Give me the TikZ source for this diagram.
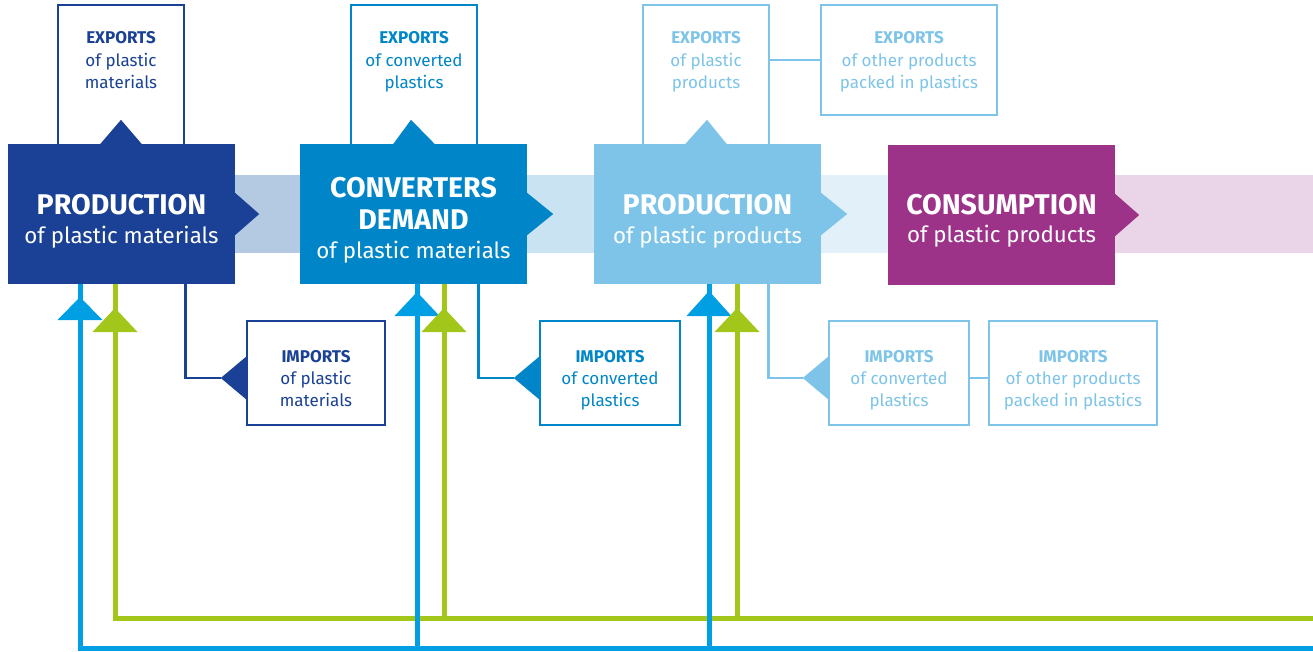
\documentclass[tikz,border=0pt]{standalone}
\usepackage{fontspec}
\setmainfont{Fira Sans}
\usetikzlibrary{calc}
\definecolor{cdark}{RGB}{26,65,149}
\definecolor{cconv}{RGB}{0,134,200}
\definecolor{clight}{RGB}{125,196,232}
\definecolor{cpurp}{RGB}{156,51,136}
\definecolor{bandA}{RGB}{180,202,227}
\definecolor{bandB}{RGB}{201,227,243}
\definecolor{bandC}{RGB}{226,240,250}
\definecolor{bandD}{RGB}{234,213,232}
\definecolor{cblue}{RGB}{0,159,227}
\definecolor{cgreen}{RGB}{163,198,26}
\begin{document}
\begin{tikzpicture}[x=1pt,y=-1pt,
  mainbox/.style={rectangle, minimum width=227pt, minimum height=140pt, inner sep=0pt, draw=none},
  outbox/.style={rectangle, draw, line width=2.5pt, fill=white, inner sep=0pt},
  hd/.style={anchor=base, inner sep=0pt, text=white, font=\fontsize{28.5}{30}\selectfont\bfseries},
  sub/.style={anchor=base, inner sep=0pt, text=white, font=\fontsize{22.3}{30}\selectfont},
  sh/.style={anchor=base, inner sep=0pt, font=\fontsize{17}{20}\selectfont\bfseries},
  st/.style={anchor=base, inner sep=0pt, font=\fontsize{17}{20}\selectfont},
  conn/.style={line width=2.5pt},
  flow/.style={line width=5pt},
]
\useasboundingbox (0,0) rectangle (1313,651);

% bands
\fill[bandA] (235,175) rectangle (300,253);
\fill[bandB] (527,175) rectangle (594,253);
\fill[bandC] (821,175) rectangle (888,253);
\fill[bandD] (1115,175) rectangle (1313,253);

% export boxes
\node[outbox, draw=cdark, minimum width=126pt, minimum height=145pt] (exp1) at (121,77.5) {};
\node[outbox, draw=cconv, minimum width=126pt, minimum height=145pt] (exp2) at (414,77.5) {};
\node[outbox, draw=clight, minimum width=126pt, minimum height=145pt] (exp3) at (706,77.5) {};
\node[outbox, draw=clight, minimum width=176pt, minimum height=110pt] (exp4) at (909,60) {};

% import boxes
\node[outbox, draw=cdark, minimum width=138pt, minimum height=104pt] (imp1) at (316,373) {};
\node[outbox, draw=cconv, minimum width=140pt, minimum height=104pt] (imp2) at (610,373) {};
\node[outbox, draw=clight, minimum width=140pt, minimum height=104pt] (imp3) at (899,373) {};
\node[outbox, draw=clight, minimum width=168pt, minimum height=104pt] (imp4) at (1073,373) {};

% import arrow tips
\coordinate (t1) at ($(imp1.west)+(-25,5)$);
\coordinate (t2) at ($(imp2.west)+(-25,5)$);
\coordinate (t3) at ($(imp3.west)+(-25,5)$);
\fill[cdark] (t1) -- ++(25,-21) -- ++(0,42) -- cycle;
\fill[cconv] (t2) -- ++(25,-21) -- ++(0,42) -- cycle;
\fill[clight] (t3) -- ++(25,-21) -- ++(0,42) -- cycle;

% connectors export/import
\draw[conn, cdark] (exp1.south east) |- (t1);
\draw[conn, cconv] (exp2.south east) |- (t2);
\draw[conn, clight] ($(exp3.south east)+(-2,0)$) |- (t3);
\draw[conn, clight] (exp3.east |- exp4.west) -- (exp4.west);
\draw[conn, clight] (imp3.east |- t3) -- (imp4.west |- t3);

% texts in export boxes
\node[sh, text=cdark] (e1a) at (121,43) {EXPORTS};
\node[st, text=cdark] (e1b) at (121,66) {of plastic};
\node[st, text=cdark] (e1c) at (121,88) {materials};
\node[sh, text=cconv] (e2a) at (414,43) {EXPORTS};
\node[st, text=cconv] (e2b) at (414,66) {of converted};
\node[st, text=cconv] (e2c) at (414,88) {plastics};
\node[sh, text=clight] (e3a) at (706,43) {EXPORTS};
\node[st, text=clight] (e3b) at (706,66) {of plastic};
\node[st, text=clight] (e3c) at (706,88) {products};
\node[sh, text=clight] (e4a) at (909,43) {EXPORTS};
\node[st, text=clight] (e4b) at (909,66) {of other products};
\node[st, text=clight] (e4c) at (909,88) {packed in plastics};

% texts in import boxes
\node[sh, text=cdark] (i1a) at (316,362) {IMPORTS};
\node[st, text=cdark] (i1b) at (316,384) {of plastic};
\node[st, text=cdark] (i1c) at (316,406) {materials};
\node[sh, text=cconv] (i2a) at (610,362) {IMPORTS};
\node[st, text=cconv] (i2b) at (610,384) {of converted};
\node[st, text=cconv] (i2c) at (610,406) {plastics};
\node[sh, text=clight] (i3a) at (899,362) {IMPORTS};
\node[st, text=clight] (i3b) at (899,384) {of converted};
\node[st, text=clight] (i3c) at (899,406) {plastics};
\node[sh, text=clight] (i4a) at (1073,362) {IMPORTS};
\node[st, text=clight] (i4b) at (1073,384) {of other products};
\node[st, text=clight] (i4c) at (1073,406) {packed in plastics};

% flows (green below blue)
\coordinate (gR) at (1313,618);
\coordinate (bR) at (1313,648.5);
\draw[flow, cgreen] (gR) -| (115,284);
\draw[flow, cgreen] (444,618) -- (444,284);
\draw[flow, cgreen] (737,618) -- (737,284);
\draw[flow, cblue] (bR) -| (80,284);
\draw[flow, cblue] (417,648.5) -- (417,284);
\draw[flow, cblue] (709,648.5) -- (709,284);
\fill[cblue] (80,297) -- (102.5,320) -- (57.5,320) -- cycle;
\fill[cblue] (417,292) -- (439.5,316) -- (394.5,316) -- cycle;
\fill[cblue] (709,291) -- (731.5,316) -- (686.5,316) -- cycle;
\fill[cgreen] (115,308) -- (137.5,332) -- (92.5,332) -- cycle;
\fill[cgreen] (444,308) -- (466.5,332) -- (421.5,332) -- cycle;
\fill[cgreen] (737,308) -- (759.5,332) -- (714.5,332) -- cycle;

% main boxes
\node[mainbox, fill=cdark] (prod) at (121.5,214) {};
\node[mainbox, fill=cconv] (conv) at (413.5,214) {};
\node[mainbox, fill=clight] (pprod) at (707.5,214) {};
\node[mainbox, fill=cpurp] (cons) at (1001.5,215) {};

% top notches
\fill[cdark] ($(exp1.center |- prod.north)+(-21,0.5)$) -- ($(exp1.center |- prod.north)+(0,-24)$) -- ($(exp1.center |- prod.north)+(21,0.5)$) -- cycle;
\fill[cconv] ($(exp2.center |- conv.north)+(-21,0.5)$) -- ($(exp2.center |- conv.north)+(-3,-24)$) -- ($(exp2.center |- conv.north)+(21,0.5)$) -- cycle;
\fill[clight] ($(exp3.center |- pprod.north)+(-21,0.5)$) -- ($(exp3.center |- pprod.north)+(1,-24)$) -- ($(exp3.center |- pprod.north)+(21,0.5)$) -- cycle;

% right notches
\fill[cdark] ($(prod.east)+(-0.5,-21.5)$) -- ($(prod.east)+(24,0)$) -- ($(prod.east)+(-0.5,21.5)$) -- cycle;
\fill[cconv] ($(conv.east)+(-0.5,-21.5)$) -- ($(conv.east)+(26,0)$) -- ($(conv.east)+(-0.5,21.5)$) -- cycle;
\fill[clight] ($(pprod.east)+(-0.5,-21.5)$) -- ($(pprod.east)+(26,0)$) -- ($(pprod.east)+(-0.5,21.5)$) -- cycle;
\fill[cpurp] ($(cons.east)+(-0.5,-21.5)$) -- ($(cons.east)+(24,0)$) -- ($(cons.east)+(-0.5,21.5)$) -- cycle;

% main texts
\node[hd] (p1) at (121.5,214) {PRODUCTION};
\node[sub] (p2) at (121.5,243) {of plastic materials};
\node[hd] (c1) at (413.5,197) {CONVERTERS};
\node[hd] (c2) at (413.5,229) {DEMAND};
\node[sub] (c3) at (413.5,258) {of plastic materials};
\node[hd] (q1) at (707.5,214) {PRODUCTION};
\node[sub] (q2) at (707.5,243) {of plastic products};
\node[hd] (k1) at (1001.5,214) {CONSUMPTION};
\node[sub] (k2) at (1001.5,242) {of plastic products};
\end{tikzpicture}
\end{document}
